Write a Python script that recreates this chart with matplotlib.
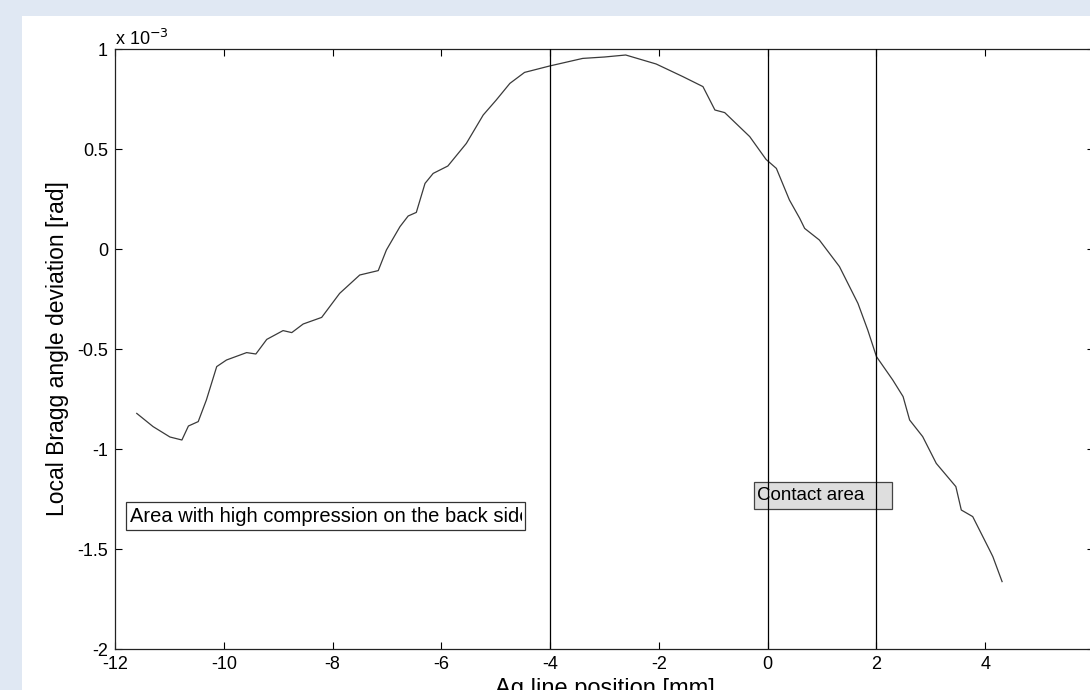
import numpy as np
import matplotlib.pyplot as plt
from matplotlib.patches import Rectangle
from matplotlib.transforms import Bbox, TransformedBbox

plt.rcParams['font.family'] = ['Liberation Sans', 'DejaVu Sans']
plt.rcParams['axes.unicode_minus'] = False

# line position [mm] and local Bragg angle deviation [x 1e-3 rad]
position = [-11.60, -11.30, -10.99, -10.77, -10.65, -10.47, -10.32, -10.13, -9.95, -9.58,
            -9.41, -9.21, -8.91, -8.75, -8.54, -8.20, -7.87, -7.50, -7.16, -7.01,
            -6.76, -6.61, -6.46, -6.30, -6.15, -5.88, -5.54, -5.23, -4.99, -4.74,
            -4.47, -4.01, -3.40, -3.00, -2.61, -2.05, -1.56, -1.19, -0.97, -0.79,
            -0.33, -0.03, 0.16, 0.40, 0.59, 0.68, 0.95, 1.32, 1.66, 1.84,
            2.00, 2.30, 2.49, 2.61, 2.85, 3.10, 3.46, 3.56, 3.77, 4.08,
            4.14, 4.31]
deviation = [-0.822, -0.888, -0.940, -0.955, -0.885, -0.863, -0.755, -0.588, -0.555, -0.518,
             -0.525, -0.452, -0.408, -0.418, -0.375, -0.342, -0.222, -0.130, -0.108, -0.005,
             0.112, 0.165, 0.183, 0.328, 0.378, 0.415, 0.528, 0.670, 0.745, 0.828,
             0.883, 0.915, 0.953, 0.960, 0.970, 0.925, 0.862, 0.812, 0.695, 0.682,
             0.562, 0.448, 0.403, 0.245, 0.153, 0.103, 0.045, -0.088, -0.272, -0.405,
             -0.538, -0.655, -0.738, -0.855, -0.938, -1.072, -1.188, -1.305, -1.338, -1.505,
             -1.538, -1.663]

boundaries = [-4, 0, 2]
x_ticks = [-12, -10, -8, -6, -4, -2, 0, 2, 4, 6]
y_ticks = [-2, -1.5, -1, -0.5, 0, 0.5, 1]
y_ticklabels = ['-2', '-1.5', '-1', '-0.5', '0', '0.5', '1']

fig = plt.figure(figsize=(10.9, 6.9), dpi=100, facecolor='#e0e8f3')
# white sheet behind the plot
fig.patches.append(Rectangle((22 / 1090, 0), 1, (690 - 16) / 690, transform=fig.transFigure,
                             facecolor='white', edgecolor='none', zorder=-1))

ax = fig.add_axes([115 / 1090, 41 / 690, 979 / 1090, 600 / 690])
ax.set_facecolor('white')

ax.plot(position, deviation, color='#3a3a3a', lw=0.9)
for b in boundaries:
    ax.axvline(b, color='black', lw=0.9, zorder=3)

ax.set_xlim(-12, 6)
ax.set_ylim(-2, 1)
ax.set_xticks(x_ticks)
ax.set_yticks(y_ticks)
ax.set_yticklabels(y_ticklabels)
ax.tick_params(direction='in', top=True, right=True, length=5, width=0.8,
               labelsize=13, pad=5)
for s in ax.spines.values():
    s.set_linewidth(0.9)
    s.set_color('#222222')

ax.set_ylabel('Local Bragg angle deviation [rad]', fontsize=16.5, labelpad=6)
ax.set_xlabel('Ag line position [mm]', fontsize=17, labelpad=4)
ax.text(0.0, 1.0, r'x 10$^{-3}$', transform=ax.transAxes, ha='left', va='bottom',
        fontsize=13)

# annotation boxes, text clipped to the box like the original
box1 = Rectangle((-11.79, -1.405), 7.32, 0.138, facecolor='white', edgecolor='#333333',
                 lw=0.9, zorder=4)
ax.add_patch(box1)
t1 = ax.text(-11.72, -1.336, 'Area with high compression on the back side', fontsize=14.5,
             va='center', ha='left', zorder=5)
t1.set_clip_box(TransformedBbox(Bbox.from_extents(-11.79, -1.405, -4.52, -1.267), ax.transData))
t1.set_clip_on(True)

box2 = Rectangle((-0.26, -1.30), 2.54, 0.137, facecolor='#dedede', edgecolor='#444444',
                 lw=0.9, zorder=2)
ax.add_patch(box2)
t2 = ax.text(-0.19, -1.232, 'Contact area', fontsize=13.5, va='center', ha='left', zorder=5)

plt.savefig('out.png', dpi=100, facecolor=fig.get_facecolor())
